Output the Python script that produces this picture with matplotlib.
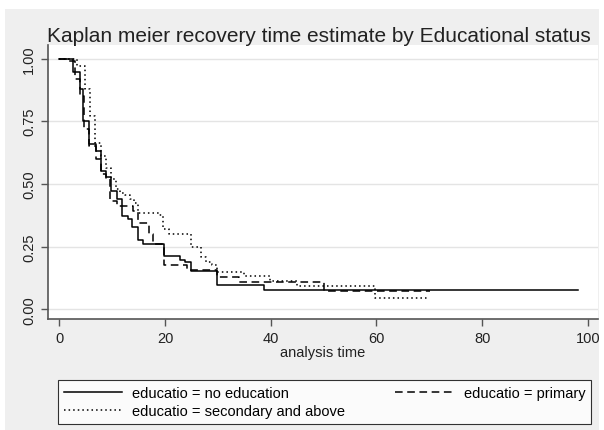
import numpy as np
import matplotlib.pyplot as plt
from matplotlib.patches import Rectangle

# Kaplan-Meier step estimates (time, survival)
t_none = [0, 2.5, 3.9, 4.5, 5.7, 7.0, 7.9, 8.8, 9.8, 10.9, 11.8, 12.9, 13.8,
          14.8, 15.9, 19.8, 22.8, 23.8, 24.9, 29.8, 38.8, 98.2]
s_none = [1.0, 0.945, 0.878, 0.752, 0.659, 0.632, 0.553, 0.527, 0.473, 0.44,
          0.373, 0.36, 0.327, 0.276, 0.26, 0.214, 0.198, 0.187, 0.154, 0.097,
          0.075, 0.075]

t_prim = [0, 1.7, 3.0, 4.0, 4.6, 5.7, 7.0, 7.9, 8.8, 9.6, 10.9, 14.0, 14.8,
          16.9, 17.8, 19.8, 24.2, 29.8, 33.9, 50.0, 70.2]
s_prim = [1.0, 0.99, 0.92, 0.85, 0.72, 0.65, 0.60, 0.54, 0.52, 0.433, 0.41,
          0.39, 0.345, 0.30, 0.26, 0.175, 0.157, 0.128, 0.108, 0.072, 0.072]

t_sec = [0, 3.4, 4.9, 5.8, 6.8, 7.8, 8.8, 9.7, 10.7, 11.5, 12.4, 13.4, 14.2,
         14.9, 18.9, 19.7, 20.8, 24.9, 26.8, 27.8, 28.8, 29.8, 34.9, 39.9,
         45.0, 59.8, 69.6]
s_sec = [1.0, 0.97, 0.878, 0.77, 0.665, 0.61, 0.565, 0.52, 0.48, 0.465, 0.455,
         0.44, 0.425, 0.385, 0.375, 0.32, 0.30, 0.247, 0.21, 0.19, 0.175,
         0.148, 0.132, 0.114, 0.092, 0.045, 0.045]

labels = ["educatio = no education", "educatio = primary",
          "educatio = secondary and above"]
yticks = [0.0, 0.25, 0.5, 0.75, 1.0]
xticks = [0, 20, 40, 60, 80, 100]

plt.rcParams['font.family'] = ['Liberation Sans', 'DejaVu Sans']

W, H = 604, 431
fig = plt.figure(figsize=(W / 100, H / 100), dpi=100, facecolor='white')
# stata-like grey backdrop
fig.patches.append(Rectangle((5 / W, 0), 594 / W, 421 / H, transform=fig.transFigure,
                             facecolor='#efefef', edgecolor='none', zorder=-10))

ax = fig.add_axes([48 / W, (H - 320) / H, 550 / W, 274 / H])
ax.set_facecolor('white')

l1, = ax.plot(t_none, s_none, drawstyle='steps-post', color='black', lw=1.1)
l2, = ax.plot(t_prim, s_prim, drawstyle='steps-post', color='black', lw=1.1,
              linestyle=(0, (5, 3)))
l3, = ax.plot(t_sec, s_sec, drawstyle='steps-post', color='black', lw=1.1,
              linestyle=(0, (1, 2)))

ax.set_xlim(-2.14, 101.9)
ax.set_ylim(-0.039, 1.054)
ax.set_xticks(xticks)
ax.set_yticks(yticks)
ax.set_yticklabels(['%.2f' % v for v in yticks], rotation=90, va='center')
ax.tick_params(labelsize=10.5, labelcolor='#222222', length=5, width=1,
               color='#555555')
ax.grid(axis='y', color='#e4e4e4', lw=1)
ax.set_axisbelow(True)

for side in ['top', 'right']:
    ax.spines[side].set_visible(False)
for side in ['left', 'bottom']:
    ax.spines[side].set_color('#555555')
    ax.spines[side].set_linewidth(1.2)

ax.set_xlabel('analysis time', fontsize=10.5, labelpad=0, color='#222222')
fig.text(319 / W, 1 - 36 / H, 'Kaplan meier recovery time estimate by Educational status',
         ha='center', va='center', fontsize=15, color='#222222')

# legend fills column-wise: order so row 1 is none/primary, row 2 secondary
leg = fig.legend([l1, l3, l2], [labels[0], labels[2], labels[1]],
                 loc='upper left', ncol=2, mode='expand',
                 bbox_to_anchor=(58 / W, 1 - 426 / H, 533 / W, 45 / H),
                 bbox_transform=fig.transFigure, fontsize=10.5, handlelength=4,
                 handletextpad=0.7, frameon=True, fancybox=False,
                 borderaxespad=0, labelspacing=0.3)
leg.get_frame().set_edgecolor('black')
leg.get_frame().set_linewidth(0.8)

fig.savefig('out.png', dpi=100, facecolor=fig.get_facecolor())
